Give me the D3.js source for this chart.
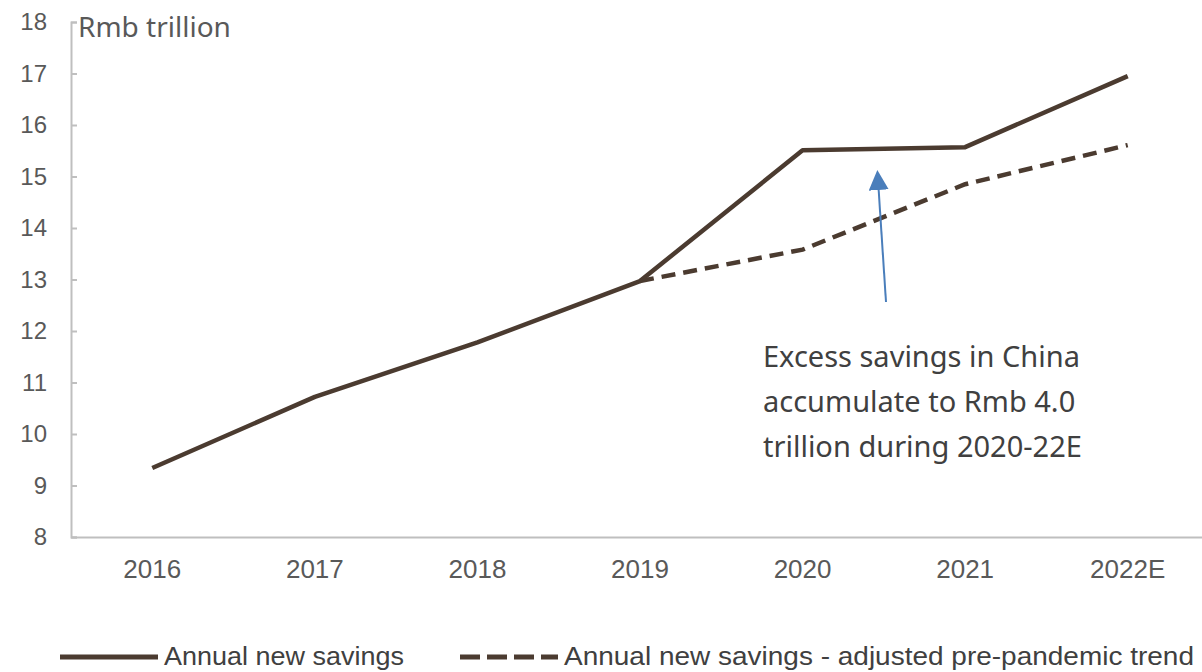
<!DOCTYPE html>
<html>
<head>
<meta charset="utf-8">
<script src="https://cdn.jsdelivr.net/npm/d3@7"></script>
<style>
  body { margin: 0; background: #fff; }
  text { font-family: "Liberation Sans", Arial, sans-serif; }
</style>
</head>
<body>
<svg id="chart" width="1202" height="672"></svg>
<script>
// data
const years = ["2016", "2017", "2018", "2019", "2020", "2021", "2022E"];
const savings = [9.34, 10.72, 11.78, 12.97, 15.51, 15.57, 16.95];
const trendYears = ["2019", "2020", "2021", "2022E"];
const trend = [12.97, 13.58, 14.85, 15.61];
const yTicks = [8, 9, 10, 11, 12, 13, 14, 15, 16, 17, 18];
const annotation = ["Excess savings in China", "accumulate to Rmb 4.0", "trillion during 2020-22E"];

const lineColor = "#4b3b30";
const axisColor = "#bfbfbf";
const textColor = "#595959";

const svg = d3.select("#chart");

const xScale = d3.scaleBand().domain(years).range([71, 1209]);
const xMid = d => xScale(d) + xScale.bandwidth() / 2;

const yScale = d3.scaleLinear().domain([8, 18]).range([537, 22]);

// y axis (ticks pointing into the plot)
const yAxis = d3.axisRight(yScale).tickValues(yTicks).tickSize(6).tickFormat(d3.format("d"));
const yG = svg.append("g").attr("transform", "translate(71,0)").call(yAxis);
yG.select(".domain").attr("stroke", axisColor).attr("stroke-width", 2);
yG.selectAll(".tick line").attr("stroke", axisColor).attr("stroke-width", 2);
yG.selectAll(".tick text")
  .attr("x", -24).attr("text-anchor", "end")
  .attr("fill", textColor).style("font-size", "24px");

// x axis
const xAxis = d3.axisBottom(xScale).tickSize(0).tickPadding(23);
const xG = svg.append("g").attr("transform", "translate(0,537)").call(xAxis);
xG.select(".domain").attr("stroke", axisColor).attr("stroke-width", 2);
xG.selectAll(".tick text").attr("fill", textColor).style("font-size", "26px");

svg.append("text")
  .attr("x", 78).attr("y", 37)
  .attr("fill", textColor)
  .style("font-family", "'Noto Sans', sans-serif")
  .style("font-size", "28px")
  .text("Rmb trillion");

const line = d3.line().x(d => xMid(d[0])).y(d => yScale(d[1]));

svg.append("path")
  .datum(d3.zip(trendYears, trend))
  .attr("d", line)
  .attr("fill", "none")
  .attr("stroke", lineColor)
  .attr("stroke-width", 4.5)
  .attr("stroke-dasharray", "14,8");

svg.append("path")
  .datum(d3.zip(years, savings))
  .attr("d", line)
  .attr("fill", "none")
  .attr("stroke", lineColor)
  .attr("stroke-width", 4.5)
  .attr("stroke-linejoin", "round");

// arrow
svg.append("defs").append("marker")
  .attr("id", "arrowhead")
  .attr("viewBox", "0 0 10 10")
  .attr("refX", 5).attr("refY", 5)
  .attr("markerWidth", 10).attr("markerHeight", 10)
  .attr("markerUnits", "strokeWidth")
  .attr("orient", "auto")
  .append("path")
  .attr("d", "M0,0 L10,5 L0,10 Z")
  .attr("fill", "#4a7ebb");

svg.append("line")
  .attr("x1", 886).attr("y1", 302)
  .attr("x2", 878).attr("y2", 180)
  .attr("stroke", "#4a7ebb")
  .attr("stroke-width", 2)
  .attr("marker-end", "url(#arrowhead)");

const ann = svg.append("text")
  .attr("x", 763).attr("y", 367)
  .attr("fill", "#404040")
  .style("font-family", "'Noto Sans', sans-serif")
  .style("font-size", "29px");
ann.selectAll("tspan").data(annotation).enter().append("tspan")
  .attr("x", 763)
  .attr("dy", (d, i) => i === 0 ? 0 : 45)
  .text(d => d);

// legend
const legend = [
  { label: "Annual new savings", dash: null, x: 60, w: 240 },
  { label: "Annual new savings - adjusted pre-pandemic trend", dash: "20,7", x: 460, w: 630 }
];
const lg = svg.append("g").selectAll("g").data(legend).enter().append("g")
  .attr("transform", d => "translate(" + d.x + ",657)");
lg.append("line")
  .attr("x1", 0).attr("x2", 98)
  .attr("stroke", lineColor)
  .attr("stroke-width", 5)
  .attr("stroke-dasharray", d => d.dash);
lg.append("text")
  .attr("x", 104).attr("y", 8)
  .attr("fill", "#404040")
  .style("font-size", "25px")
  .attr("textLength", d => d.w)
  .attr("lengthAdjust", "spacingAndGlyphs")
  .text(d => d.label);
</script>
</body>
</html>
